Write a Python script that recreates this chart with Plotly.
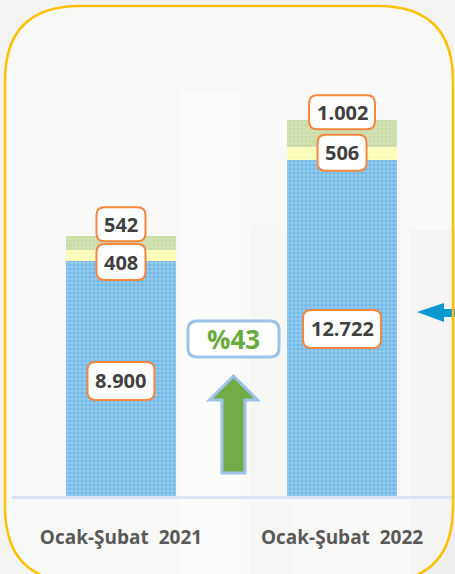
import plotly.graph_objects as go

# ---- data ----
categories = ["Ocak-Şubat  2021", "Ocak-Şubat  2022"]
blue_vals = [8900, 12722]
yellow_vals = [408, 506]
green_vals = [542, 1002]
blue_labels = ["8.900", "12.722"]
yellow_labels = ["408", "506"]
green_labels = ["542", "1.002"]
change_label = "%43"

# ---- layout constants ----
W, H = 455, 574
ML, MR, MT, MB = 12, 0, 47, 78
PW, PH = W - ML - MR, H - MT - MB
YMAX = 17000
XR = [-0.493, 1.511]
UPP = YMAX / PH  # data units per pixel


def px2paper(px, py):
    return (px - ML) / PW, (H - MB - py) / PH


def rrect_path(cx, cy, w, h, r):
    x0, x1 = cx - w / 2, cx + w / 2
    y0, y1 = cy - h / 2, cy + h / 2
    return (f"M {x0+r},{y0} L {x1-r},{y0} Q {x1},{y0} {x1},{y0+r} "
            f"L {x1},{y1-r} Q {x1},{y1} {x1-r},{y1} L {x0+r},{y1} "
            f"Q {x0},{y1} {x0},{y1-r} L {x0},{y0+r} Q {x0},{y0} {x0+r},{y0} Z")


def paper_path(points_px, closed=True):
    parts = []
    for cmd, pts in points_px:
        coords = " ".join("%.5f,%.5f" % px2paper(*p) for p in pts)
        parts.append(f"{cmd} {coords}")
    return " ".join(parts) + (" Z" if closed else "")


x = list(range(len(categories)))

fig = go.Figure()
fig.add_bar(x=x, y=blue_vals, width=0.5,
            marker=dict(color="#90C8EF", line=dict(width=0),
                        pattern=dict(shape="+", fgcolor="#2F9BDA", bgcolor="#98CCF0",
                                     size=4, solidity=0.4)),
            hoverinfo="skip")
fig.add_bar(x=x, y=yellow_vals, width=0.5,
            marker=dict(color="#FFFFB4", line=dict(width=0),
                        pattern=dict(shape="+", fgcolor="#F2F2A6", bgcolor="#FFFFC0",
                                     size=4, solidity=0.3)),
            hoverinfo="skip")
fig.add_bar(x=x, y=green_vals, width=0.5,
            marker=dict(color="#C9DBA6", line=dict(width=0),
                        pattern=dict(shape="+", fgcolor="#B2CB86", bgcolor="#D4E3B6",
                                     size=4, solidity=0.35)),
            hoverinfo="skip")

shapes = []
annotations = []

# background: rounded gold frame + subtle bands
x0, x1, y0, y1, r = 5, 453, 6, 582, 75
border_path = paper_path([
    ("M", [(x0 + r, y0)]), ("L", [(x1 - r, y0)]), ("Q", [(x1, y0), (x1, y0 + r)]),
    ("L", [(x1, y1 - r)]), ("Q", [(x1, y1), (x1 - r, y1)]), ("L", [(x0 + r, y1)]),
    ("Q", [(x0, y1), (x0, y1 - r)]), ("L", [(x0, y0 + r)]), ("Q", [(x0, y0), (x0 + r, y0)]),
])
shapes.append(dict(type="path", xref="paper", yref="paper", path=border_path,
                   fillcolor="#F9F9F7", line=dict(width=0), layer="below"))
for (bx0, by0, bx1, by1, col) in [(180, 90, 240, 574, "rgba(255,255,255,0.45)"),
                                   (250, 225, 290, 574, "rgba(0,0,0,0.012)"),
                                   (410, 230, 455, 574, "rgba(0,0,0,0.018)")]:
    ax0, ay0 = px2paper(bx0, by0)
    ax1, ay1 = px2paper(bx1, by1)
    shapes.append(dict(type="rect", xref="paper", yref="paper", x0=ax0, x1=ax1,
                       y0=ay0, y1=ay1, fillcolor=col, line=dict(width=0), layer="below"))

# blue arrow on the right
arrow_pts = [(417, 312), (444, 303), (444, 309), (455, 309), (455, 317), (444, 317), (444, 322)]
arrow_path = paper_path([("M", [arrow_pts[0]])] + [("L", [p]) for p in arrow_pts[1:]])
shapes.append(dict(type="path", xref="paper", yref="paper", path=arrow_path,
                   fillcolor="#0B98CF", line=dict(width=0), layer="above"))
# gold border line
shapes.append(dict(type="path", xref="paper", yref="paper", path=border_path,
                   fillcolor="rgba(0,0,0,0)", line=dict(color="#FFC000", width=2.5)))

# value labels with rounded orange boxes
label_font = dict(family="Open Sans", size=20, color="#404040")


def add_label(xi, yval, text, w, h):
    shapes.append(dict(type="path", xref="x", yref="y", xsizemode="pixel", ysizemode="pixel",
                       xanchor=xi, yanchor=yval, path=rrect_path(0, 0, w, h, 8),
                       fillcolor="white", line=dict(color="#F4863F", width=2)))
    annotations.append(dict(x=xi, y=yval, xref="x", yref="y", text=f"<b>{text}</b>",
                            showarrow=False, font=label_font))


blue_shift = [-2.5, -1]
yellow_shift = [-6.5, 0.5]
green_shift = [11.5, 8]
blue_w = [67, 78]
yellow_w = [49, 49]
green_w = [49, 66]
for i in x:
    b, yv, g = blue_vals[i], yellow_vals[i], green_vals[i]
    add_label(i, b / 2 + blue_shift[i] * UPP, blue_labels[i], blue_w[i], 38)
    add_label(i, b + yv / 2 + yellow_shift[i] * UPP, yellow_labels[i], yellow_w[i], 36)
    add_label(i, b + yv + g + green_shift[i] * UPP, green_labels[i], green_w[i], 34)

# change indicator between bars
mid = (x[0] + x[1]) / 2
shapes.append(dict(type="path", xref="x", yref="y", xsizemode="pixel", ysizemode="pixel",
                   xanchor=mid, yanchor=0, path=rrect_path(2, 157, 91, 36, 9),
                   fillcolor="white", line=dict(color="#9DC3E6", width=3)))
annotations.append(dict(x=mid, y=157 * UPP, xref="x", yref="y", xshift=2,
                        text=f"<b>{change_label}</b>", showarrow=False,
                        font=dict(family="Open Sans", size=26, color="#6AAB3F")))
up_arrow = "M 2,120 L 26,96 L 13.5,96 L 13.5,23 L -9.5,23 L -9.5,96 L -22,96 Z"
shapes.append(dict(type="path", xref="x", yref="y", xsizemode="pixel", ysizemode="pixel",
                   xanchor=mid, yanchor=0, path=up_arrow,
                   fillcolor="#70AD47", line=dict(color="#9DC3E6", width=3)))

ticktext = ["<b>" + c.replace("  ", "\u00a0 ") + "</b>" for c in categories]

fig.update_layout(
    width=W, height=H, margin=dict(l=ML, r=MR, t=MT, b=MB),
    barmode="stack", showlegend=False,
    paper_bgcolor="#F3F3F2", plot_bgcolor="rgba(0,0,0,0)",
    shapes=shapes, annotations=annotations,
    xaxis=dict(range=XR, tickmode="array", tickvals=x, ticktext=ticktext,
               showgrid=False, zeroline=False, showline=True, linecolor="#D9E5F4", linewidth=3,
               ticks="", ticklabelstandoff=22,
               tickfont=dict(family="Open Sans", size=19, color="#595959"), fixedrange=True),
    yaxis=dict(range=[0, YMAX], visible=False, fixedrange=True),
)

fig.write_html("out.html", config={"displayModeBar": False},
               post_script="document.body.style.margin='0';"
                           "document.documentElement.style.overflow='hidden';")
